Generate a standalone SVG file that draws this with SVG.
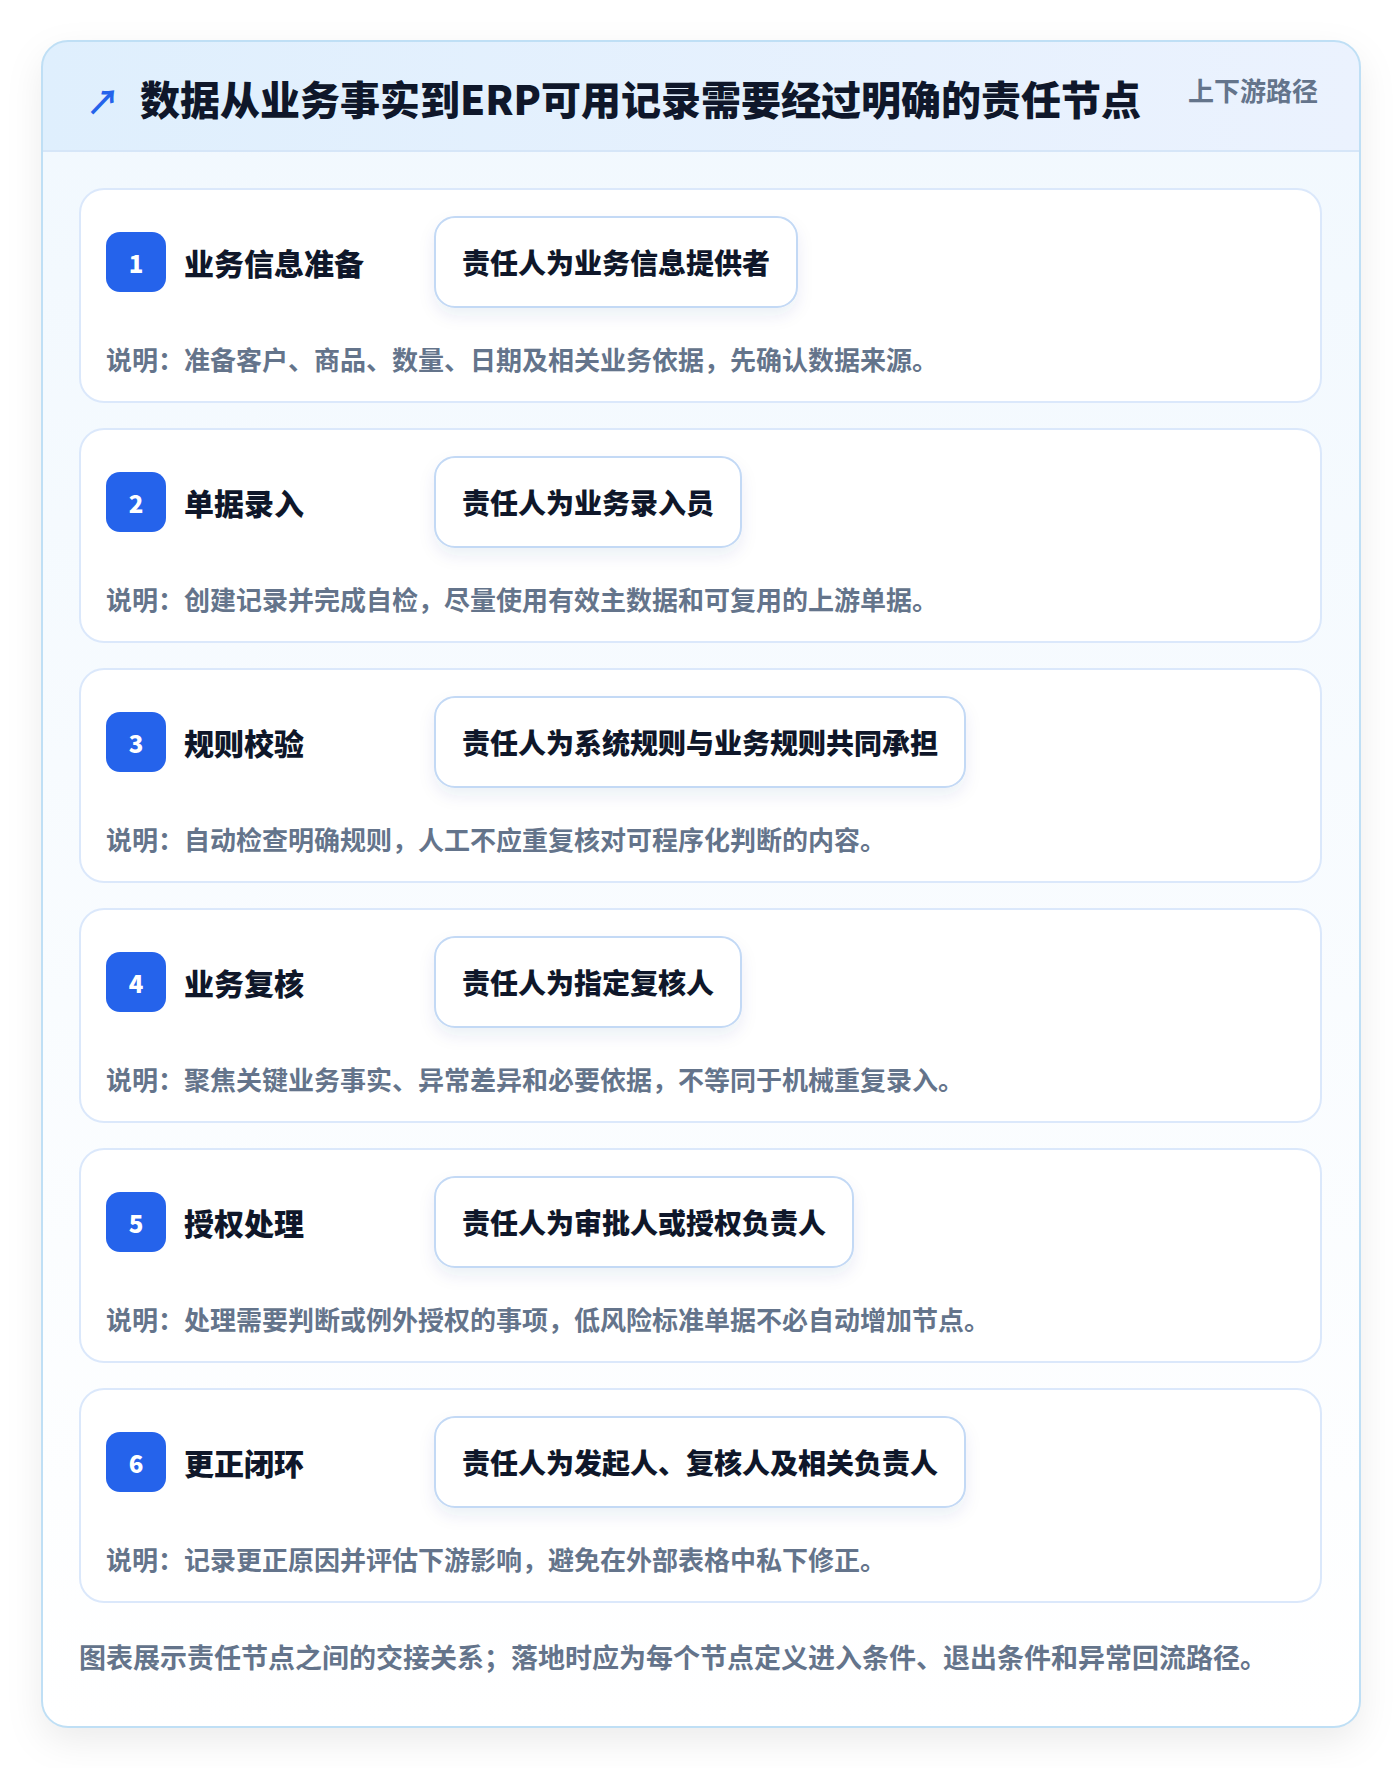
<svg xmlns="http://www.w3.org/2000/svg" width="1400" height="1768" viewBox="0 0 1400 1768">
<defs>
<style>
.t{font-family:"Noto Sans CJK SC","Noto Sans",sans-serif;}
.title{font-size:40px;font-weight:900;fill:#0f172a;}
.tag{font-size:26px;font-weight:700;fill:#64748b;}
.card{fill:#ffffff;stroke:#dbe8fb;stroke-width:2;}
.badge{fill:#2563eb;}
.num{font-size:24px;font-weight:900;fill:#ffffff;}
.stitle{font-size:30px;font-weight:900;fill:#0f172a;}
.pill{fill:#ffffff;stroke:#c3d9f5;stroke-width:2;}
.ptext{font-size:28px;font-weight:900;fill:#0f172a;}
.desc{font-size:26px;font-weight:700;fill:#64748b;}
.foot{font-size:27px;font-weight:700;fill:#64748b;}
</style>
<linearGradient id="hdr" x1="0" y1="0" x2="1" y2="0">
<stop offset="0" stop-color="#dfeffd"/>
<stop offset="1" stop-color="#ebf2fe"/>
</linearGradient>
<linearGradient id="body" x1="0" y1="0" x2="0" y2="1">
<stop offset="0" stop-color="#f1f8fe"/>
<stop offset="1" stop-color="#ffffff"/>
</linearGradient>
<filter id="shadow" x="-10%" y="-10%" width="120%" height="120%">
<feDropShadow dx="0" dy="14" stdDeviation="18" flood-color="#0f172a" flood-opacity="0.08"/>
</filter>
<filter id="pshadow" x="-20%" y="-30%" width="140%" height="180%">
<feDropShadow dx="0" dy="8" stdDeviation="8" flood-color="#1e3a8a" flood-opacity="0.08"/>
</filter>
<clipPath id="cardclip"><rect x="42" y="41" width="1318" height="1686" rx="26"/></clipPath>
</defs>
<rect x="0" y="0" width="1400" height="1768" fill="#ffffff"/>
<g id="frame">
<rect x="42" y="41" width="1318" height="1686" rx="26" fill="url(#body)" filter="url(#shadow)"/>
<g clip-path="url(#cardclip)">
<rect x="42" y="41" width="1318" height="110" fill="url(#hdr)"/>
<line x1="42" y1="151" x2="1360" y2="151" stroke="#d6e6f8" stroke-width="2"/>
</g>
<rect x="42" y="41" width="1318" height="1686" rx="26" fill="none" stroke="#bfdff5" stroke-width="2"/>
</g>
<g id="header">
<text class="t" x="86" y="100" font-size="34" font-weight="700" fill="#2563eb" dominant-baseline="central">↗</text>
<text class="t title" x="140" y="98" dominant-baseline="central">数据从业务事实到ERP可用记录需要经过明确的责任节点</text>
<text class="t tag" x="1318" y="89" text-anchor="end" dominant-baseline="central">上下游路径</text>
</g>
<g id="connectors"></g>
<g id="step1">
<rect class="card" x="80" y="189" width="1241" height="213" rx="24"/>
<rect class="badge" x="106" y="232" width="60" height="60" rx="14"/>
<text class="t num" x="136" y="262" text-anchor="middle" dominant-baseline="central">1</text>
<text class="t stitle" x="184" y="262" dominant-baseline="central">业务信息准备</text>
<rect class="pill" x="435" y="217" width="362" height="90" rx="20" filter="url(#pshadow)"/>
<text class="t ptext" x="462" y="262" dominant-baseline="central">责任人为业务信息提供者</text>
<text class="t desc" x="106" y="358" dominant-baseline="central">说明：准备客户、商品、数量、日期及相关业务依据，先确认数据来源。</text>
</g>
<g id="step2">
<rect class="card" x="80" y="429" width="1241" height="213" rx="24"/>
<rect class="badge" x="106" y="472" width="60" height="60" rx="14"/>
<text class="t num" x="136" y="502" text-anchor="middle" dominant-baseline="central">2</text>
<text class="t stitle" x="184" y="502" dominant-baseline="central">单据录入</text>
<rect class="pill" x="435" y="457" width="306" height="90" rx="20" filter="url(#pshadow)"/>
<text class="t ptext" x="462" y="502" dominant-baseline="central">责任人为业务录入员</text>
<text class="t desc" x="106" y="598" dominant-baseline="central">说明：创建记录并完成自检，尽量使用有效主数据和可复用的上游单据。</text>
</g>
<g id="step3">
<rect class="card" x="80" y="669" width="1241" height="213" rx="24"/>
<rect class="badge" x="106" y="712" width="60" height="60" rx="14"/>
<text class="t num" x="136" y="742" text-anchor="middle" dominant-baseline="central">3</text>
<text class="t stitle" x="184" y="742" dominant-baseline="central">规则校验</text>
<rect class="pill" x="435" y="697" width="530" height="90" rx="20" filter="url(#pshadow)"/>
<text class="t ptext" x="462" y="742" dominant-baseline="central">责任人为系统规则与业务规则共同承担</text>
<text class="t desc" x="106" y="838" dominant-baseline="central">说明：自动检查明确规则，人工不应重复核对可程序化判断的内容。</text>
</g>
<g id="step4">
<rect class="card" x="80" y="909" width="1241" height="213" rx="24"/>
<rect class="badge" x="106" y="952" width="60" height="60" rx="14"/>
<text class="t num" x="136" y="982" text-anchor="middle" dominant-baseline="central">4</text>
<text class="t stitle" x="184" y="982" dominant-baseline="central">业务复核</text>
<rect class="pill" x="435" y="937" width="306" height="90" rx="20" filter="url(#pshadow)"/>
<text class="t ptext" x="462" y="982" dominant-baseline="central">责任人为指定复核人</text>
<text class="t desc" x="106" y="1078" dominant-baseline="central">说明：聚焦关键业务事实、异常差异和必要依据，不等同于机械重复录入。</text>
</g>
<g id="step5">
<rect class="card" x="80" y="1149" width="1241" height="213" rx="24"/>
<rect class="badge" x="106" y="1192" width="60" height="60" rx="14"/>
<text class="t num" x="136" y="1222" text-anchor="middle" dominant-baseline="central">5</text>
<text class="t stitle" x="184" y="1222" dominant-baseline="central">授权处理</text>
<rect class="pill" x="435" y="1177" width="418" height="90" rx="20" filter="url(#pshadow)"/>
<text class="t ptext" x="462" y="1222" dominant-baseline="central">责任人为审批人或授权负责人</text>
<text class="t desc" x="106" y="1318" dominant-baseline="central">说明：处理需要判断或例外授权的事项，低风险标准单据不必自动增加节点。</text>
</g>
<g id="step6">
<rect class="card" x="80" y="1389" width="1241" height="213" rx="24"/>
<rect class="badge" x="106" y="1432" width="60" height="60" rx="14"/>
<text class="t num" x="136" y="1462" text-anchor="middle" dominant-baseline="central">6</text>
<text class="t stitle" x="184" y="1462" dominant-baseline="central">更正闭环</text>
<rect class="pill" x="435" y="1417" width="530" height="90" rx="20" filter="url(#pshadow)"/>
<text class="t ptext" x="462" y="1462" dominant-baseline="central">责任人为发起人、复核人及相关负责人</text>
<text class="t desc" x="106" y="1558" dominant-baseline="central">说明：记录更正原因并评估下游影响，避免在外部表格中私下修正。</text>
</g>
<g id="footer">
<text class="t foot" x="79" y="1656" dominant-baseline="central">图表展示责任节点之间的交接关系；落地时应为每个节点定义进入条件、退出条件和异常回流路径。</text>
</g>
</svg>
